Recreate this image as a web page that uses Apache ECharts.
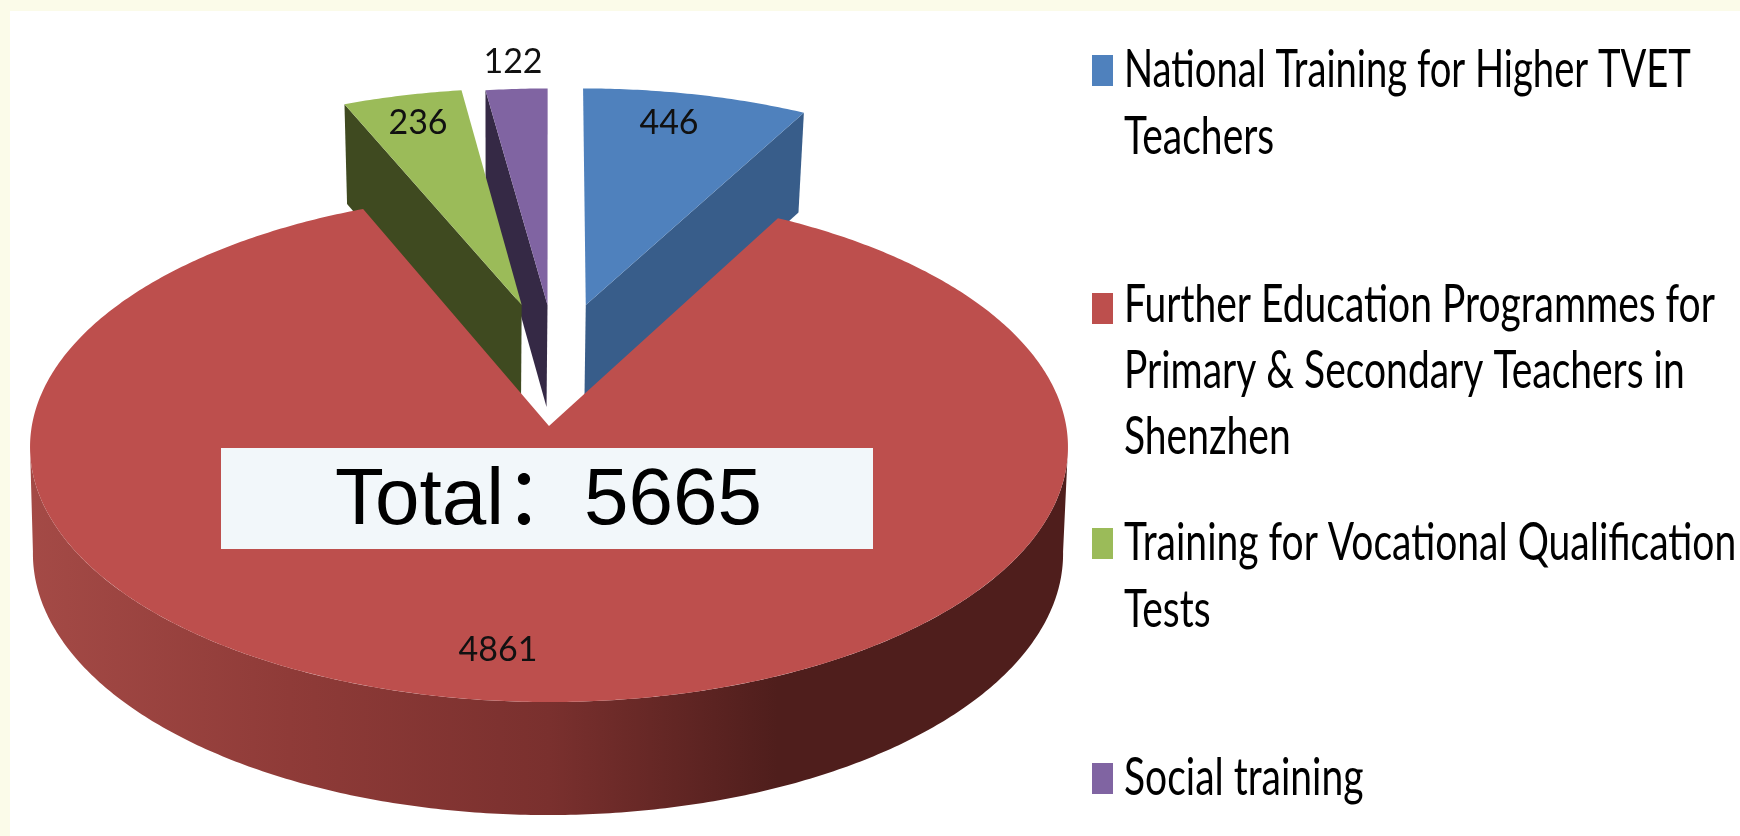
<!DOCTYPE html>
<html>
<head>
<meta charset="utf-8">
<style>
  html, body { margin: 0; padding: 0; background: #fbfbe9; }
  #main { width: 1740px; height: 836px; }
</style>
<script src="https://cdn.jsdelivr.net/npm/echarts@6/dist/echarts.min.js"></script>
</head>
<body>
<div id="main"></div>
<script>
var categories = [
  'National Training for Higher TVET\nTeachers',
  'Further Education Programmes for\nPrimary & Secondary Teachers in\nShenzhen',
  'Training for Vocational Qualification\nTests',
  'Social training'
];
var values = [446, 4861, 236, 122];
var totalLabel = 'Total：5665';

var colors = ['#4f81bd', '#bd4f4d', '#9bbb59', '#8064a2'];
var wallColors = ['#385d8a', '#4f1e1c', '#3f4a20', '#352945'];

// slice offset in pie units (x, far), the red one stays in place
var explode = [[0.074, 0.497], [0, 0], [-0.055, 0.497], [-0.003, 0.497]];
// which radial edge shows its wall: 1 end of slice, 0 start of slice
var wallEdge = [1, null, 0, 0];
var labelPos = [[669, 123], [498, 650], [418, 123], [513, 62]];
var legendTop = [55, 293, 528, 763];
var legendBaseline = [[88, 155], [323, 389, 455], [561, 628], [796]];
var legendScale = [[0.734, 0.75], [0.75, 0.75, 0.75], [0.75, 0.75], [0.75]];

// perspective of the pie, top and bottom plane
var topPlane = { cx: 549, cy: 426, a: 517.2, b: 253.3, k: 0.0824 };
var bottomPlane = { cx: 548, cy: 530.2, a: 513, b: 259.2, k: 0.09 };
// angles where the rim is widest on screen, the curved wall runs between them
var rimFrom = 94.7 * Math.PI / 180;
var rimTo = 265.3 * Math.PI / 180;

function project(plane, u, v) {
  var w = 1 + plane.k * v;
  return [plane.cx + plane.a * u / w, plane.cy - plane.b * v / w];
}

var total = values.reduce(function (s, d) { return s + d; }, 0);
var startAngle = [];
var acc = 0;
values.forEach(function (d) {
  startAngle.push(acc / total * Math.PI * 2);
  acc += d;
});

function arcPoints(plane, i, from, to) {
  var pts = [];
  var n = Math.max(2, Math.ceil(Math.abs(to - from) / 0.01));
  for (var j = 0; j <= n; j++) {
    var t = from + (to - from) * j / n;
    pts.push(project(plane, explode[i][0] + Math.sin(t), explode[i][1] + Math.cos(t)));
  }
  return pts;
}

function renderSlice(i) {
  return function (params, api) {
    var a0 = startAngle[i];
    var a1 = a0 + api.value(0) / total * Math.PI * 2;
    var centerTop = project(topPlane, explode[i][0], explode[i][1]);
    var centerBottom = project(bottomPlane, explode[i][0], explode[i][1]);
    var children = [];

    if (wallEdge[i] !== null) {
      var e = wallEdge[i] ? a1 : a0;
      var outerTop = arcPoints(topPlane, i, e, e + 0.001)[0];
      var outerBottom = arcPoints(bottomPlane, i, e, e + 0.001)[0];
      children.push({
        type: 'polygon',
        shape: { points: [centerTop, outerTop, outerBottom, centerBottom] },
        style: { fill: wallColors[i] }
      });
    } else {
      // the big slice shows its curved outer wall in front
      var band = arcPoints(topPlane, i, rimFrom, rimTo).concat(arcPoints(bottomPlane, i, rimFrom, rimTo).reverse());
      children.push({
        type: 'polygon',
        shape: { points: band },
        style: {
          fill: {
            type: 'linear', x: 0, y: 0, x2: 1, y2: 0,
            colorStops: [
              { offset: 0, color: '#a44a46' },
              { offset: 0.25, color: '#8f3b38' },
              { offset: 0.5, color: '#7a302e' },
              { offset: 0.72, color: '#4f1e1c' },
              { offset: 1, color: '#4f1e1c' }
            ]
          }
        }
      });
    }

    children.push({
      type: 'polygon',
      shape: { points: [centerTop].concat(arcPoints(topPlane, i, a0, a1)) },
      style: { fill: colors[i] }
    });
    children.push({
      type: 'text',
      x: labelPos[i][0],
      y: labelPos[i][1],
      style: {
        text: String(api.value(0)),
        font: '34px Lato',
        fill: '#111',
        align: 'center',
        verticalAlign: 'middle'
      }
    });
    return { type: 'group', children: children };
  };
}

// painter's order: back slices first, the big one on top
var drawOrder = [3, 2, 0, 1];
var series = drawOrder.map(function (i) {
  return {
    type: 'custom',
    name: categories[i],
    coordinateSystem: 'none',
    silent: true,
    data: [[values[i]]],
    renderItem: renderSlice(i)
  };
});

var graphic = [
  { type: 'rect', z: -1, shape: { x: 10, y: 11, width: 1730, height: 825 }, style: { fill: '#fff' } },
  { type: 'rect', z: 10, shape: { x: 221, y: 448, width: 652, height: 101 }, style: { fill: '#f2f7fa' } },
  {
    type: 'text', z: 11, x: 335, y: 502,
    style: {
      text: totalLabel,
      font: '80px "Liberation Sans", "Noto Sans CJK SC"',
      fill: '#000',
      verticalAlign: 'middle'
    }
  }
];

// legend is squeezed horizontally like the source image, so it is drawn as text
categories.forEach(function (name, i) {
  graphic.push({
    type: 'rect',
    shape: { x: 1092, y: legendTop[i], width: 21, height: 31 },
    style: { fill: colors[i] }
  });
  name.split('\n').forEach(function (line, j) {
    graphic.push({
      type: 'text',
      x: 1124,
      y: legendBaseline[i][j] - 18,
      scaleX: legendScale[i][j],
      style: { text: line, font: '52px Lato', fill: '#000', verticalAlign: 'middle' }
    });
  });
});

var myChart = echarts.init(document.getElementById('main'));
myChart.setOption({
  animation: false,
  backgroundColor: '#fbfbe9',
  graphic: graphic,
  series: series
});
</script>
</body>
</html>
